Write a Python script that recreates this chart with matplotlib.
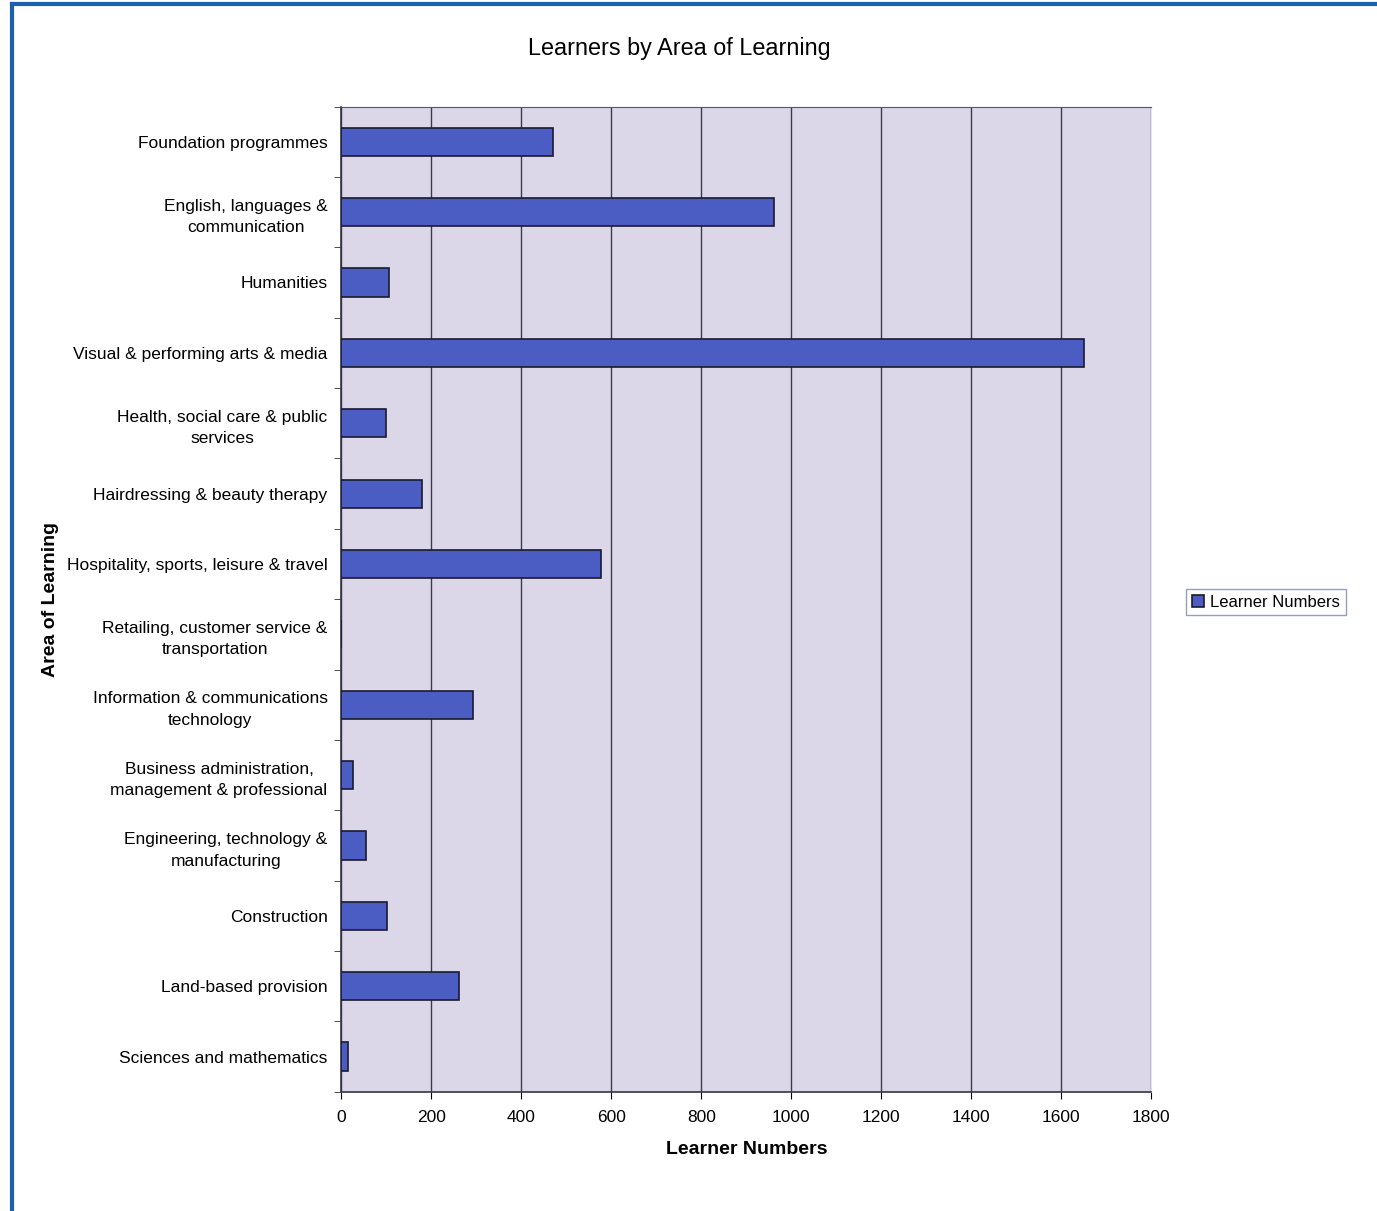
import numpy as np
import matplotlib.pyplot as plt
from matplotlib.lines import Line2D

plt.rcParams['font.family'] = ['Liberation Sans', 'DejaVu Sans']

areas = ['Foundation programmes', 'English, languages &\ncommunication', 'Humanities',
         'Visual & performing arts & media', 'Health, social care & public\nservices',
         'Hairdressing & beauty therapy', 'Hospitality, sports, leisure & travel',
         'Retailing, customer service &\ntransportation', 'Information & communications\ntechnology',
         'Business administration,\nmanagement & professional', 'Engineering, technology &\nmanufacturing',
         'Construction', 'Land-based provision', 'Sciences and mathematics']
learners = [470, 962, 105, 1650, 98, 180, 578, 0, 292, 25, 55, 102, 262, 15]
xticks = [0, 200, 400, 600, 800, 1000, 1200, 1400, 1600, 1800]

fig = plt.figure(figsize=(13.77, 12.11), dpi=100)
ax = fig.add_axes([0.248, 0.0985, 0.588, 0.8135])
ax.set_facecolor('#dcd7e8')

y = np.arange(len(areas))
ax.barh(y, learners, height=0.4, color='#4b5cc2', edgecolor='#1a1a2e', linewidth=1.2,
        label='Learner Numbers', zorder=3)
ax.set_ylim(len(areas) - 0.5, -0.5)
ax.set_xlim(0, 1800)
ax.set_xticks(xticks)
ax.xaxis.grid(True, color='#3a3a4a', linewidth=1.0, zorder=1)
ax.set_yticks(y)
ax.set_yticklabels(areas, fontsize=12.5, multialignment='center', linespacing=1.55)
ax.set_yticks(np.arange(len(areas) + 1) - 0.5, minor=True)
ax.tick_params(axis='y', which='major', length=0, pad=10)
ax.tick_params(axis='y', which='minor', length=5, direction='out', color='#333333')
ax.tick_params(axis='x', labelsize=12.5, length=5, direction='out', pad=8)

for s in ['left', 'bottom']:
    ax.spines[s].set_color('#333344')
    ax.spines[s].set_linewidth(1.2)
ax.spines['top'].set_color('#555566')
ax.spines['top'].set_linestyle((0, (1, 1)))
ax.spines['right'].set_color('#e6e2ee')

fig.text(0.493, 0.960, 'Learners by Area of Learning', fontsize=16.8, ha='center', va='center')
ax.set_xlabel('Learner Numbers', fontsize=14, fontweight='bold', labelpad=12)
ax.set_ylabel('Area of Learning', fontsize=14, fontweight='bold', labelpad=6)

leg = ax.legend(loc='center left', bbox_to_anchor=(1.033, 0.497), fontsize=12,
                frameon=True, fancybox=False, handlelength=0.7, handleheight=0.7,
                borderpad=0.35, handletextpad=0.4)
leg.get_frame().set_edgecolor('#7d86a8')
leg.get_frame().set_linewidth(1.0)

# scanned page border (top and left)
fig.add_artist(Line2D([0.0085, 1.0], [0.9965, 0.9965], color='#1a5fb0', linewidth=3))
fig.add_artist(Line2D([0.0085, 0.0085], [0.0, 0.9965], color='#1a5fb0', linewidth=3))

fig.savefig('out.png', dpi=100)
